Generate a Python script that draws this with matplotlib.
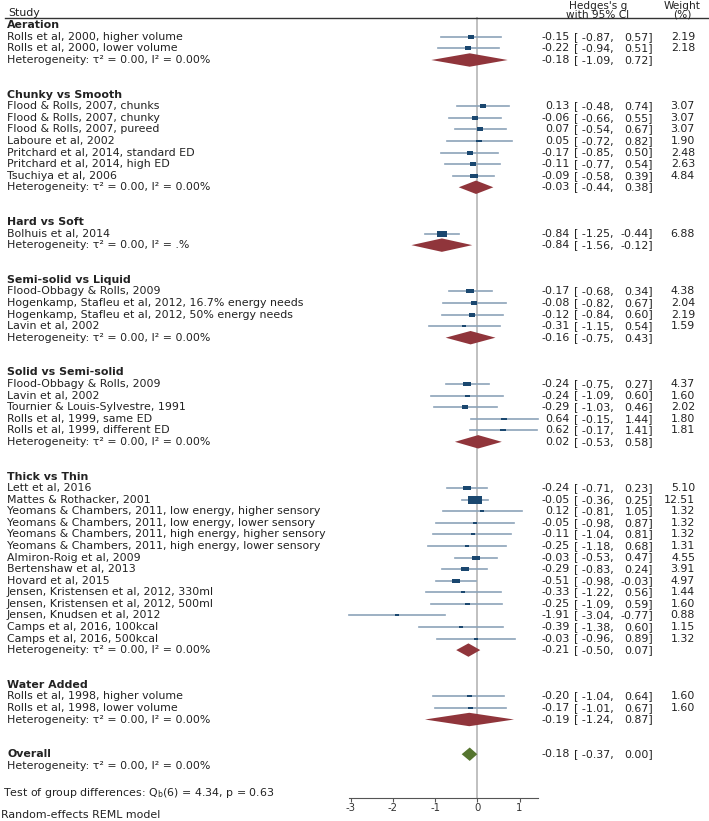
import matplotlib.pyplot as plt
from matplotlib.path import Path
from matplotlib.transforms import blended_transform_factory

plt.rcParams['font.family'] = ['DejaVu Sans']
plt.rcParams['mathtext.default'] = 'regular'
plt.rcParams['axes.unicode_minus'] = False

# subgroups
groups = ['Aeration', 'Chunky vs Smooth', 'Hard vs Soft', 'Semi-solid vs Liquid',
          'Solid vs Semi-solid', 'Thick vs Thin', 'Water Added']
group_es = [-0.18, -0.03, -0.84, -0.16, 0.02, -0.21, -0.19]
group_lo = [-1.09, -0.44, -1.56, -0.75, -0.53, -0.50, -1.24]
group_hi = [0.72, 0.38, -0.12, 0.43, 0.58, 0.07, 0.87]
group_i2 = ['0.00%', '0.00%', '.%', '0.00%', '0.00%', '0.00%', '0.00%']

# studies
studies = [
    'Rolls et al, 2000, higher volume', 'Rolls et al, 2000, lower volume',
    'Flood & Rolls, 2007, chunks', 'Flood & Rolls, 2007, chunky', 'Flood & Rolls, 2007, pureed',
    'Laboure et al, 2002', 'Pritchard et al, 2014, standard ED', 'Pritchard et al, 2014, high ED',
    'Tsuchiya et al, 2006',
    'Bolhuis et al, 2014',
    'Flood-Obbagy & Rolls, 2009', 'Hogenkamp, Stafleu et al, 2012, 16.7% energy needs',
    'Hogenkamp, Stafleu et al, 2012, 50% energy needs', 'Lavin et al, 2002',
    'Flood-Obbagy & Rolls, 2009', 'Lavin et al, 2002', 'Tournier & Louis-Sylvestre, 1991',
    'Rolls et al, 1999, same ED', 'Rolls et al, 1999, different ED',
    'Lett et al, 2016', 'Mattes & Rothacker, 2001',
    'Yeomans & Chambers, 2011, low energy, higher sensory',
    'Yeomans & Chambers, 2011, low energy, lower sensory',
    'Yeomans & Chambers, 2011, high energy, higher sensory',
    'Yeomans & Chambers, 2011, high energy, lower sensory',
    'Almiron-Roig et al, 2009', 'Bertenshaw et al, 2013', 'Hovard et al, 2015',
    'Jensen, Kristensen et al, 2012, 330ml', 'Jensen, Kristensen et al, 2012, 500ml',
    'Jensen, Knudsen et al, 2012', 'Camps et al, 2016, 100kcal', 'Camps et al, 2016, 500kcal',
    'Rolls et al, 1998, higher volume', 'Rolls et al, 1998, lower volume',
]
study_group = [0, 0, 1, 1, 1, 1, 1, 1, 1, 2, 3, 3, 3, 3, 4, 4, 4, 4, 4,
               5, 5, 5, 5, 5, 5, 5, 5, 5, 5, 5, 5, 5, 5, 6, 6]
es = [-0.15, -0.22, 0.13, -0.06, 0.07, 0.05, -0.17, -0.11, -0.09, -0.84,
      -0.17, -0.08, -0.12, -0.31, -0.24, -0.24, -0.29, 0.64, 0.62,
      -0.24, -0.05, 0.12, -0.05, -0.11, -0.25, -0.03, -0.29, -0.51, -0.33, -0.25, -1.91, -0.39, -0.03,
      -0.20, -0.17]
lo = [-0.87, -0.94, -0.48, -0.66, -0.54, -0.72, -0.85, -0.77, -0.58, -1.25,
      -0.68, -0.82, -0.84, -1.15, -0.75, -1.09, -1.03, -0.15, -0.17,
      -0.71, -0.36, -0.81, -0.98, -1.04, -1.18, -0.53, -0.83, -0.98, -1.22, -1.09, -3.04, -1.38, -0.96,
      -1.04, -1.01]
hi = [0.57, 0.51, 0.74, 0.55, 0.67, 0.82, 0.50, 0.54, 0.39, -0.44,
      0.34, 0.67, 0.60, 0.54, 0.27, 0.60, 0.46, 1.44, 1.41,
      0.23, 0.25, 1.05, 0.87, 0.81, 0.68, 0.47, 0.24, -0.03, 0.56, 0.59, -0.77, 0.60, 0.89,
      0.64, 0.67]
weight = [2.19, 2.18, 3.07, 3.07, 3.07, 1.90, 2.48, 2.63, 4.84, 6.88,
          4.38, 2.04, 2.19, 1.59, 4.37, 1.60, 2.02, 1.80, 1.81,
          5.10, 12.51, 1.32, 1.32, 1.32, 1.31, 4.55, 3.91, 4.97, 1.44, 1.60, 0.88, 1.15, 1.32,
          1.60, 1.60]

overall = (-0.18, -0.37, 0.00)
overall_i2 = '0.00%'
q_test = 'Test of group differences: Q$_b$(6) = 4.34, p = 0.63'

navy = '#1a476f'
ci_col = '#8ca3b9'
maroon = '#90353b'
green = '#55752f'
txt = '#222222'
fs = 7.9

fig = plt.figure(figsize=(7.09, 8.21), dpi=100)
ax = fig.add_axes([0, 1 - 798.3 / 821, 1, 798.3 / 821])
ax.set_xlim(-477.3 / 42.2, (709 - 477.3) / 42.2)
ax.set_ylim((798.3 - 25.3) / 11.57, -25.3 / 11.57)
tr = blended_transform_factory(ax.transAxes, ax.transData)


def px(x):
    return x / 709


def row_text(y, label, e, l, h, w=None, bold=False):
    ax.text(px(7), y, label, transform=tr, fontsize=fs, va='center',
            fontweight='bold' if bold else 'normal', color=txt)
    if e is None:
        return
    ax.text(px(570), y, f'{e:.2f}', transform=tr, fontsize=fs, va='center', ha='right', color=txt)
    ax.text(px(614), y, f'[ {l:.2f},', transform=tr, fontsize=fs, va='center', ha='right', color=txt)
    ax.text(px(653), y, f'{h:.2f}]', transform=tr, fontsize=fs, va='center', ha='right', color=txt)
    if w is not None:
        ax.text(px(695), y, f'{w:.2f}', transform=tr, fontsize=fs, va='center', ha='right', color=txt)


def diamond(y, e, l, h, color):
    hh = 0.58
    ax.fill([l, e, h, e], [y, y - hh, y, y + hh], color=color, lw=0, zorder=3)


box = Path([(-1, -0.54), (1, -0.54), (1, 0.54), (-1, 0.54), (-1, -0.54)],
           [Path.MOVETO, Path.LINETO, Path.LINETO, Path.LINETO, Path.CLOSEPOLY])

# header
hfs = fs - 0.3
ax.text(px(8), -1.06, 'Study', transform=tr, fontsize=fs, va='center', color=txt)
ax.text(px(598), -1.70, "Hedges's g", transform=tr, fontsize=hfs, va='center', ha='center', color=txt)
ax.text(px(598), -0.92, 'with 95% CI', transform=tr, fontsize=hfs, va='center', ha='center', color=txt)
ax.text(px(682), -1.70, 'Weight', transform=tr, fontsize=hfs, va='center', ha='center', color=txt)
ax.text(px(682), -0.92, '(%)', transform=tr, fontsize=hfs, va='center', ha='center', color=txt)
ax.plot([px(5), 1], [-0.6, -0.6], transform=tr, color='#333333', lw=1.0, clip_on=False)

row = 0
for g, name in enumerate(groups):
    row_text(row, name, None, None, None, bold=True)
    row += 1
    for i in range(len(studies)):
        if study_group[i] != g:
            continue
        ax.plot([lo[i], hi[i]], [row, row], color=ci_col, lw=1.2, zorder=2)
        ax.scatter([es[i]], [row], s=8.1 * weight[i], marker=box, color=navy, lw=0, zorder=4)
        row_text(row, studies[i], es[i], lo[i], hi[i], weight[i])
        row += 1
    diamond(row, group_es[g], group_lo[g], group_hi[g], maroon)
    row_text(row, f'Heterogeneity: τ² = 0.00, I² = {group_i2[g]}',
             group_es[g], group_lo[g], group_hi[g])
    row += 3

row_text(row, 'Overall', *overall, bold=True)
diamond(row, *overall, green)
row_text(row + 1, f'Heterogeneity: τ² = 0.00, I² = {overall_i2}', None, None, None)
ax.text(px(3), 66.38, q_test, transform=tr, fontsize=fs, va='center', color=txt)
fig.text(px(1), 1 - 814.5 / 821, 'Random-effects REML model', fontsize=fs, va='center', color=txt)

# zero line and x axis
ax.plot([0, 0], [-0.6, ax.get_ylim()[0]], color='#c0c0c0', lw=1.4, zorder=1)
for s in ['top', 'left', 'right']:
    ax.spines[s].set_visible(False)
ax.spines['bottom'].set_bounds(min(lo), max(hi))
ax.spines['bottom'].set_color('#555555')
ax.spines['bottom'].set_linewidth(0.8)
ax.set_yticks([])
ax.set_xticks([-3, -2, -1, 0, 1])
ax.set_xticklabels(['-3', '-2', '-1', '0', '1'])
ax.tick_params(axis='x', length=3, width=0.8, color='#555555', labelcolor='#333333',
               labelsize=fs - 0.6, pad=0.5)
ax.patch.set_visible(False)

fig.savefig('out.png', dpi=100)
